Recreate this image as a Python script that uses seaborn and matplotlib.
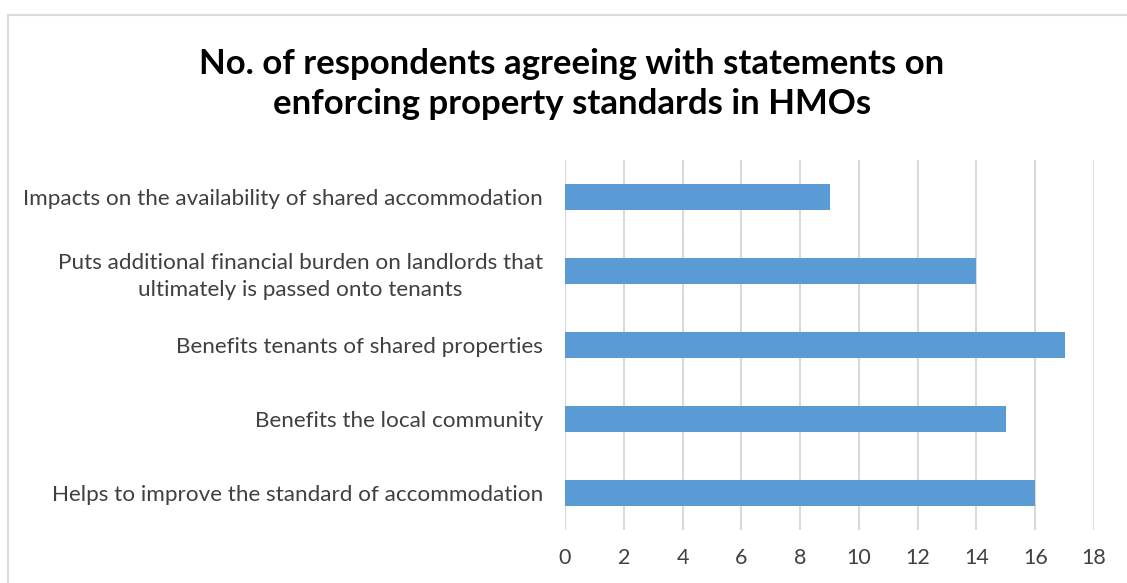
import matplotlib
matplotlib.use("Agg")
import matplotlib.pyplot as plt
import seaborn as sns
import pandas as pd
from matplotlib.patches import Rectangle

categories = [
    "Impacts on the availability of shared accommodation",
    "Puts additional financial burden on landlords that\nultimately is passed onto tenants",
    "Benefits tenants of shared properties",
    "Benefits the local community",
    "Helps to improve the standard of accommodation",
]
values = [9, 14, 17, 15, 16]
x_ticks = [0, 2, 4, 6, 8, 10, 12, 14, 16, 18]
title = "No. of respondents agreeing with statements on\nenforcing property standards in HMOs"

sns.set_theme(style="white")
plt.rcParams['font.family'] = ['Lato', 'DejaVu Sans']

df = pd.DataFrame({"category": categories, "value": values})

fig = plt.figure(figsize=(11.27, 5.83), dpi=100)
ax = fig.add_axes([565/1127, 1-530/583, (1094-565)/1127, 370/583])

sns.barplot(data=df, y="category", x="value", orient="h", color="#5B9BD5",
            width=0.35, ax=ax, saturation=1, edgecolor="none")

ax.set_xlim(0, 18)
ax.set_ylim(4.5, -0.5)
ax.set_xticks(x_ticks)
ax.set_xticklabels([str(t) for t in x_ticks], fontsize=15.5, color="#404040")
ax.tick_params(axis='x', length=0, pad=13)
ax.tick_params(axis='y', length=0, pad=16)
for lab in ax.get_yticklabels():
    lab.set_fontsize(16.2)
    lab.set_color("#404040")
    lab.set_horizontalalignment("right")
    lab.set_multialignment("center")
    lab.set_linespacing(1.45)
ax.set_xlabel("")
ax.set_ylabel("")
ax.grid(axis='x', color="#D9D9D9", linewidth=1.5)
ax.set_axisbelow(True)
for s in ax.spines.values():
    s.set_visible(False)

fig.text(572/1127, 1-84/583, title, ha="center", va="center", fontsize=25,
         fontweight="bold", color="black", linespacing=1.33)

fig.patches.append(Rectangle((8/1127, -0.1), 1.2, 1-15/583+0.1, transform=fig.transFigure,
                             fill=False, edgecolor="#D9D9D9", linewidth=1.5))

fig.savefig("out.png", dpi=100)
